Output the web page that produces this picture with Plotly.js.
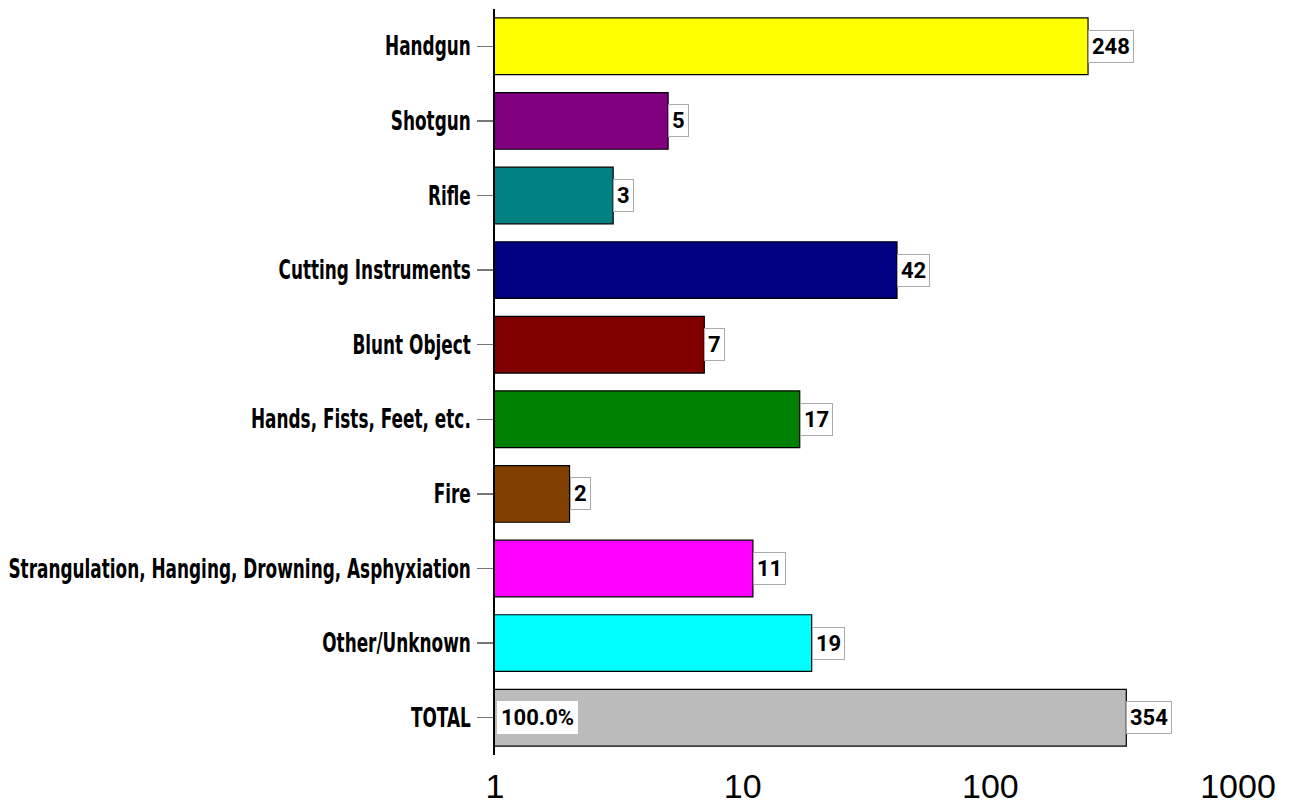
<!DOCTYPE html>
<html><head><meta charset="utf-8">
<script src="https://cdn.plot.ly/plotly-3.0.1.min.js"></script>
<style>html,body{margin:0;padding:0;background:#fff}#chart{width:1289px;height:806px}</style>
</head><body><div id="chart"></div>
<script>
const categories = ["Handgun","Shotgun","Rifle","Cutting Instruments","Blunt Object","Hands, Fists, Feet, etc.","Fire","Strangulation, Hanging, Drowning, Asphyxiation","Other/Unknown","TOTAL"];
const values = [248,5,3,42,7,17,2,11,19,354];
const colors = ["#FFFF00","#800080","#008080","#000080","#800000","#008000","#804000","#FF00FF","#00FFFF","#BBBBBB"];
const valueLabels = ["248","5","3","42","7","17","2","11","19","354"];
const totalPctLabel = "100.0%";
const xTicks = [1,10,100,1000];

const tickFont = {family:"DejaVu Sans, sans-serif", size:26, color:"#000", weight:700};
const labelFont = {family:"Roboto, sans-serif", size:22, color:"#000", weight:700};
const CONDENSE = 0.65;

const annotations = categories.map((c,i)=>({
  x: Math.log10(values[i]), y: c, xref:'x', yref:'y', text: '<b>'+valueLabels[i]+'</b>',
  showarrow:false, xanchor:'left', yanchor:'middle', font:labelFont,
  bgcolor:'#fff', bordercolor:'#aaa', borderwidth:1, borderpad:3
}));
annotations.push({x:0, y:'TOTAL', xref:'x', yref:'y', text:'<b>'+totalPctLabel+'</b>', showarrow:false,
  xanchor:'left', yanchor:'middle', font:labelFont, bgcolor:'#fff', bordercolor:'#fff', borderwidth:1, borderpad:3, xshift:2});

Plotly.newPlot('chart', [{
  type:'bar', orientation:'h', y:categories, x:values,
  marker:{color:colors, line:{color:'#000', width:1.2}},
  width:0.76, hoverinfo:'none'
}], {
  width:1289, height:806,
  margin:{l:495, r:51, t:9, b:51},
  plot_bgcolor:'#fff', paper_bgcolor:'#fff',
  showlegend:false,
  xaxis:{type:'log', range:[0,3], tickvals:xTicks, ticktext:xTicks.map(String), showgrid:false, zeroline:false, automargin:false,
    showline:false, ticks:'', tickfont:{family:'Liberation Sans, Arial, sans-serif', size:34, color:'#000'}, ticklabelstandoff:8},
  yaxis:{type:'category', autorange:'reversed', showgrid:false, zeroline:false, showline:true, linecolor:'#000', linewidth:2,
    automargin:false, ticks:'outside', ticklen:16, tickcolor:'#777', tickwidth:1.5, ticklabelstandoff:1,
    tickfont:tickFont},
  annotations:annotations
}, {displayModeBar:false, staticPlot:true}).then(gd=>{
  // condense category labels horizontally (reference uses a condensed heavy face)
  gd.querySelectorAll('g.ytick text').forEach(t=>{
    const bb = t.getBBox();
    const right = bb.x + bb.width;
    const prev = t.getAttribute('transform') || '';
    t.setAttribute('transform', prev + ` translate(${right},0) scale(${CONDENSE},1) translate(${-right},0)`);
  });
});
</script></body></html>
